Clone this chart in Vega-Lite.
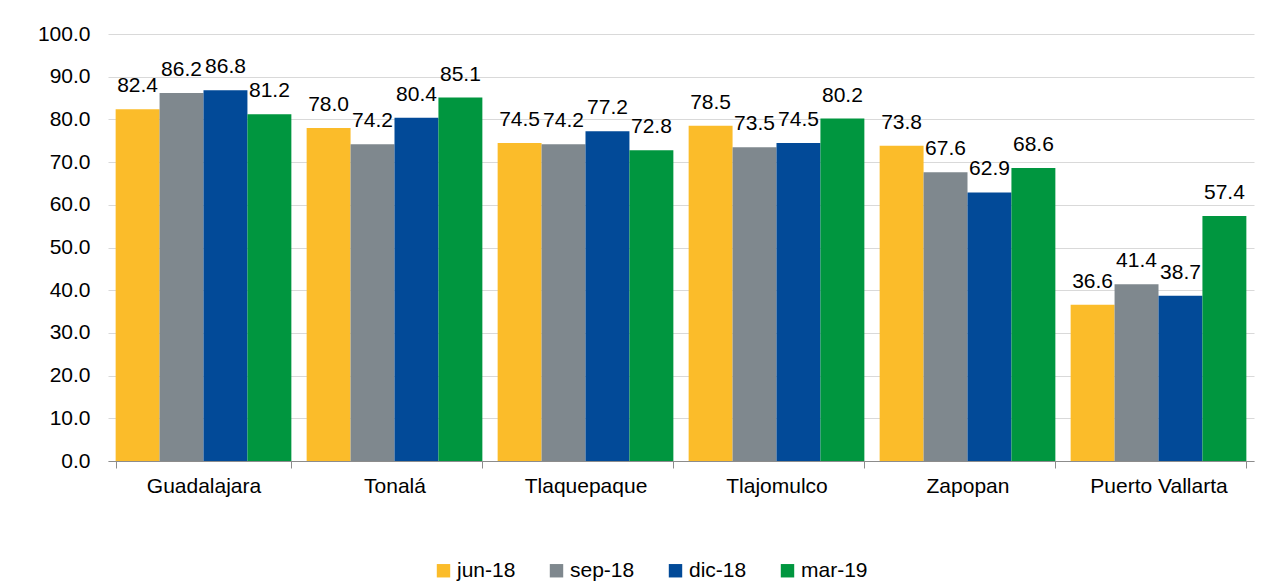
{
  "$schema": "https://vega.github.io/schema/vega-lite/v6.json",
  "width": 1146,
  "height": 427,
  "autosize": {"type": "none"},
  "padding": {"left": 108, "top": 34, "right": 15, "bottom": 126},
  "background": "white",
  "config": {"view": {"stroke": null}, "font": "Liberation Sans"},
  "data": {"values": [
    {"city": "Guadalajara", "period": "jun-18", "value": 82.4},
    {"city": "Guadalajara", "period": "sep-18", "value": 86.2},
    {"city": "Guadalajara", "period": "dic-18", "value": 86.8},
    {"city": "Guadalajara", "period": "mar-19", "value": 81.2},
    {"city": "Tonalá", "period": "jun-18", "value": 78.0},
    {"city": "Tonalá", "period": "sep-18", "value": 74.2},
    {"city": "Tonalá", "period": "dic-18", "value": 80.4},
    {"city": "Tonalá", "period": "mar-19", "value": 85.1},
    {"city": "Tlaquepaque", "period": "jun-18", "value": 74.5},
    {"city": "Tlaquepaque", "period": "sep-18", "value": 74.2},
    {"city": "Tlaquepaque", "period": "dic-18", "value": 77.2},
    {"city": "Tlaquepaque", "period": "mar-19", "value": 72.8},
    {"city": "Tlajomulco", "period": "jun-18", "value": 78.5},
    {"city": "Tlajomulco", "period": "sep-18", "value": 73.5},
    {"city": "Tlajomulco", "period": "dic-18", "value": 74.5},
    {"city": "Tlajomulco", "period": "mar-19", "value": 80.2},
    {"city": "Zapopan", "period": "jun-18", "value": 73.8},
    {"city": "Zapopan", "period": "sep-18", "value": 67.6},
    {"city": "Zapopan", "period": "dic-18", "value": 62.9},
    {"city": "Zapopan", "period": "mar-19", "value": 68.6},
    {"city": "Puerto Vallarta", "period": "jun-18", "value": 36.6},
    {"city": "Puerto Vallarta", "period": "sep-18", "value": 41.4},
    {"city": "Puerto Vallarta", "period": "dic-18", "value": 38.7},
    {"city": "Puerto Vallarta", "period": "mar-19", "value": 57.4}
  ]},
  "encoding": {
    "x": {
      "field": "city", "type": "nominal",
      "sort": ["Guadalajara", "Tonalá", "Tlaquepaque", "Tlajomulco", "Zapopan", "Puerto Vallarta"],
      "scale": {"paddingInner": 0.08, "paddingOuter": 0.04},
      "axis": {"title": null, "labelAngle": 0, "labelFontSize": 21, "labelColor": "#000000", "domainColor": "#8c8c8c", "tickColor": "#8c8c8c", "tickBand": "extent", "tickSize": 7, "labelPadding": 7, "grid": false}
    },
    "xOffset": {
      "field": "period", "type": "nominal",
      "sort": ["jun-18", "sep-18", "dic-18", "mar-19"],
      "scale": {"paddingInner": 0, "paddingOuter": 0}
    },
    "y": {
      "field": "value", "type": "quantitative",
      "scale": {"domain": [0, 100]},
      "axis": {"title": null, "values": [0, 10, 20, 30, 40, 50, 60, 70, 80, 90, 100], "format": ".1f", "labelFontSize": 21, "labelColor": "#000000", "domain": false, "ticks": false, "tickSize": 0, "labelPadding": 18, "gridColor": "#d9d9d9", "gridWidth": 1}
    }
  },
  "layer": [
    {
      "mark": {"type": "bar"},
      "encoding": {
        "color": {
          "field": "period", "type": "nominal",
          "sort": ["jun-18", "sep-18", "dic-18", "mar-19"],
          "scale": {"domain": ["jun-18", "sep-18", "dic-18", "mar-19"], "range": ["#fbbc2a", "#7f888e", "#024a98", "#00963f"]},
          "legend": {"orient": "none", "legendX": 325, "legendY": 526, "direction": "horizontal", "title": null, "symbolType": "square", "symbolSize": 180, "symbolStrokeWidth": 0, "labelFontSize": 21, "labelColor": "#000000", "columnPadding": 30, "labelOffset": 3}
        }
      }
    },
    {
      "mark": {"type": "text", "baseline": "alphabetic", "dy": -17, "fontSize": 21, "color": "#000000"},
      "encoding": {"text": {"field": "value", "type": "quantitative", "format": ".1f"}}
    }
  ]
}
